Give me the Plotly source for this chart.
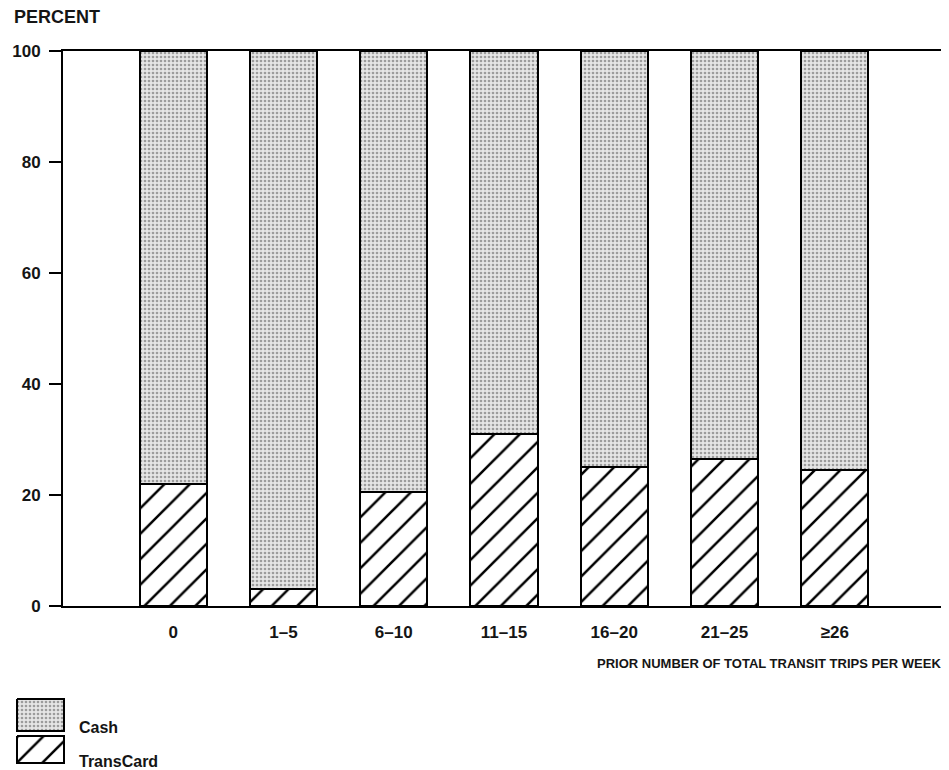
import plotly.graph_objects as go

categories = ["0", "1\u20135", "6\u201310", "11\u201315", "16\u201320", "21\u201325", "\u226526"]
transcard = [22, 3, 20.5, 31, 25, 26.5, 24.5]
cash = [100 - v for v in transcard]
y_ticks = [0, 20, 40, 60, 80, 100]
series_names = ["Cash", "TransCard"]

W, H = 949, 770
OFF = 8  # default page body margin: figure pixel = page pixel - OFF
FONT = "Liberation Sans, Arial, sans-serif"
INK = "#151515"
# plot area in page pixels -> figure pixels
PL, PR, PT, PB = 63 - OFF, 945 - OFF, 51 - OFF, 606 - OFF

x_idx = list(range(len(categories)))

hatch = dict(shape="/", fgcolor="black", bgcolor="white", size=18, solidity=0.14, fgopacity=1)
dots = dict(shape=".", fgcolor="#6a6a6a", bgcolor="#e6e6e6", size=4, solidity=0.35, fgopacity=0.6)

fig = go.Figure()
fig.add_trace(go.Bar(
    x=x_idx, y=transcard, name=series_names[1], width=0.61, showlegend=False,
    marker=dict(color="white", line=dict(color="black", width=2), pattern=hatch),
))
fig.add_trace(go.Bar(
    x=x_idx, y=cash, name=series_names[0], width=0.61, showlegend=False,
    marker=dict(color="#e4e4e4", line=dict(color="black", width=2), pattern=dots),
))

# custom legend (large swatches) drawn on an overlay pixel-coordinate subplot (page pixels)
legend_boxes = [(17, 64, 699, 731), (17, 64, 736, 763)]
legend_patterns = [dots, hatch]
for (x0, x1, y0, y1), name, pat in zip(legend_boxes, series_names, legend_patterns):
    fig.add_trace(go.Scatter(
        x=[x0, x1, x1, x0, x0], y=[y0, y0, y1, y1, y0], mode="lines",
        fill="toself", fillcolor=pat["bgcolor"], fillpattern=pat,
        line=dict(color="black", width=2), xaxis="x2", yaxis="y2",
        showlegend=False, hoverinfo="skip",
    ))

tick_font = dict(family=FONT, size=17, color=INK, weight="bold")

fig.update_layout(
    barmode="stack",
    width=W, height=H,
    margin=dict(l=0, r=0, t=0, b=0, pad=0, autoexpand=False),
    paper_bgcolor="white", plot_bgcolor="rgba(0,0,0,0)",
    font=dict(family=FONT, size=14, color=INK),
    showlegend=False,
    xaxis=dict(domain=[PL / W, PR / W], range=[-1, 7], tickvals=x_idx, ticktext=categories,
               showgrid=False, zeroline=False, showline=True, linecolor="black",
               linewidth=2, mirror=True, ticks="", ticklabelstandoff=10, automargin=False,
               tickfont=tick_font, anchor="y"),
    yaxis=dict(domain=[(H - PB) / H, (H - PT) / H], range=[0, 100], tickvals=y_ticks,
               showgrid=False, zeroline=False, showline=True, linecolor="black",
               linewidth=2, mirror=True, ticks="outside", ticklen=12, tickwidth=2,
               tickcolor="black", ticklabelstandoff=5, tickfont=tick_font, anchor="x",
               automargin=False),
    # pixel-coordinate overlay expressed in page pixels
    xaxis2=dict(domain=[0, 1], range=[OFF, W + OFF], visible=False, anchor="y2",
                fixedrange=True, automargin=False),
    yaxis2=dict(domain=[0, 1], range=[H + OFF, OFF], visible=False, anchor="x2",
                fixedrange=True, automargin=False),
    annotations=[
        dict(text="PERCENT", xref="x2", yref="y2", x=12, y=17,
             xanchor="left", yanchor="middle", showarrow=False,
             font=dict(family=FONT, size=18, color=INK, weight="bold")),
        dict(text="PRIOR NUMBER OF TOTAL TRANSIT TRIPS PER WEEK", xref="x2", yref="y2",
             x=943, y=663, xanchor="right", yanchor="middle", showarrow=False,
             font=dict(family=FONT, size=13, color=INK, weight="bold")),
        dict(text=series_names[0], xref="x2", yref="y2", x=77, y=727,
             xanchor="left", yanchor="middle", showarrow=False,
             font=dict(family=FONT, size=16, color=INK, weight="bold")),
        dict(text=series_names[1], xref="x2", yref="y2", x=77, y=761,
             xanchor="left", yanchor="middle", showarrow=False,
             font=dict(family=FONT, size=16, color=INK, weight="bold")),
    ],
)

fig.write_html("out.html", config={"displayModeBar": False})
